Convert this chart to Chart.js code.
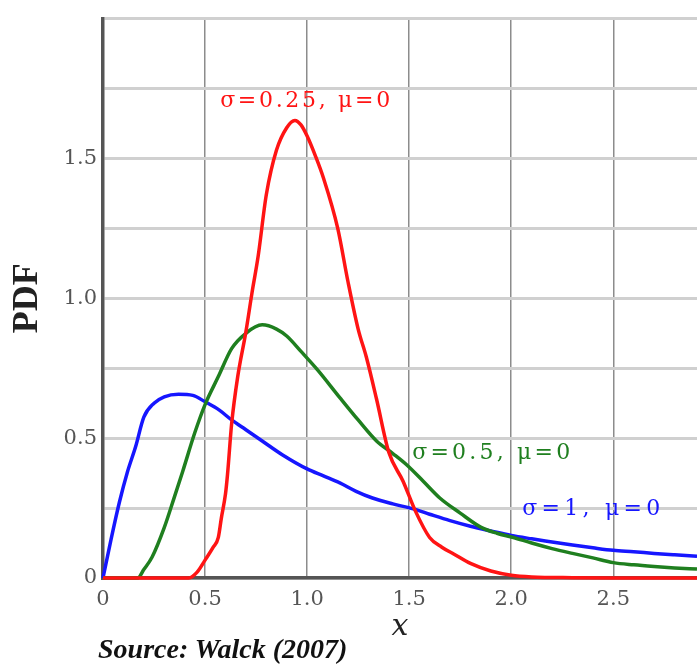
<!DOCTYPE html>
<html><head><meta charset="utf-8">
<script src="https://cdn.jsdelivr.net/npm/chart.js@4.4.1/dist/chart.umd.min.js"></script>
<style>
html,body{margin:0;padding:0;background:#fff;}
#wrap{position:relative;width:697px;height:669px;overflow:hidden;}
#src{position:absolute;left:98px;top:634px;font:italic bold 28px "Liberation Serif",serif;color:#111;white-space:nowrap;line-height:30px;}
</style></head><body>
<div id="wrap"><canvas id="c" width="697" height="669"></canvas><div id="src">Source: Walck (2007)</div></div>
<script>
// ---- data ----
const xRed  = [0, 0.42, 0.46, 0.5, 0.54, 0.565, 0.58, 0.6, 0.61, 0.63, 0.66, 0.7, 0.73, 0.76, 0.8, 0.85, 0.9, 0.94, 0.97, 1.0, 1.04, 1.08, 1.15, 1.2, 1.25, 1.29, 1.34, 1.4, 1.47, 1.53, 1.6, 1.66, 1.72, 1.8, 1.9, 2.0, 2.1, 2.3, 2.5, 2.91];
const yRed  = [0, 0, 0.02, 0.064, 0.11, 0.145, 0.215, 0.3, 0.37, 0.55, 0.72, 0.88, 1.02, 1.15, 1.37, 1.53, 1.61, 1.636, 1.62, 1.58, 1.51, 1.43, 1.25, 1.06, 0.89, 0.79, 0.64, 0.45, 0.346, 0.24, 0.145, 0.11, 0.085, 0.052, 0.025, 0.01, 0.004, 0.001, 0, 0];

const xGreen = [0, 0.17, 0.2, 0.24, 0.3, 0.35, 0.39, 0.45, 0.5, 0.565, 0.63, 0.7, 0.78, 0.85, 0.9, 0.97, 1.05, 1.16, 1.25, 1.34, 1.42, 1.49, 1.57, 1.65, 1.75, 1.85, 1.93, 2.01, 2.1, 2.2, 2.3, 2.4, 2.5, 2.6, 2.7, 2.8, 2.91];
const yGreen = [0, 0, 0.03, 0.074, 0.18, 0.29, 0.38, 0.52, 0.62, 0.72, 0.82, 0.875, 0.905, 0.89, 0.865, 0.81, 0.745, 0.645, 0.565, 0.49, 0.445, 0.403, 0.345, 0.286, 0.232, 0.182, 0.16, 0.145, 0.125, 0.105, 0.088, 0.072, 0.055, 0.047, 0.041, 0.036, 0.032];

const xBlue = [0, 0.04, 0.08, 0.12, 0.16, 0.2, 0.25, 0.3, 0.37, 0.44, 0.5, 0.57, 0.63, 0.7, 0.78, 0.88, 1.0, 1.08, 1.16, 1.24, 1.32, 1.42, 1.52, 1.6, 1.7, 1.8, 1.9, 2.0, 2.1, 2.2, 2.3, 2.4, 2.5, 2.6, 2.7, 2.8, 2.91];
const yBlue = [0, 0.14, 0.27, 0.38, 0.47, 0.575, 0.625, 0.648, 0.657, 0.653, 0.63, 0.6, 0.565, 0.53, 0.49, 0.44, 0.39, 0.365, 0.34, 0.31, 0.286, 0.265, 0.247, 0.228, 0.205, 0.185, 0.168, 0.152, 0.14, 0.129, 0.118, 0.108, 0.099, 0.094, 0.088, 0.083, 0.078];

const seriesNames = ['σ=0.25, μ=0', 'σ=0.5, μ=0', 'σ=1, μ=0'];
const xTickValues = [0, 0.5, 1, 1.5, 2, 2.5];
const xTickLabels = ['0', '0.5', '1.0', '1.5', '2.0', '2.5'];
const yGridValues = [0, 0.25, 0.5, 0.75, 1, 1.25, 1.5, 1.75, 2];
const yTickLabels = ['0', '', '0.5', '', '1.0', '', '1.5', '', ''];
const xMax = 2.91, yMax = 2;

// ---- styles ----
const RED = '#ff1414', GREEN = '#1f7f1f', BLUE = '#1616ff';
const pts = (xs, ys) => xs.map((x, i) => ({x, y: ys[i]}));

const labelDefs = [
  {text: seriesNames[0], x: 0.574, y: 1.705, color: RED,   width: 170},
  {text: seriesNames[1], x: 1.515, y: 0.445, color: GREEN, width: 158},
  {text: seriesNames[2], x: 2.054, y: 0.245, color: BLUE,  width: 138}
];

const labelPlugin = {
  id: 'curveLabels',
  afterDatasetsDraw(chart) {
    const {ctx, scales} = chart;
    ctx.save();
    ctx.font = '22px "DejaVu Serif", serif';
    ctx.textBaseline = 'middle';
    ctx.textAlign = 'left';
    labelDefs.forEach(l => {
      ctx.letterSpacing = '0px';
      const w = ctx.measureText(l.text).width;
      const n = [...l.text].length;
      ctx.letterSpacing = Math.max(0, (l.width - w) / (n - 1)) + 'px';
      ctx.fillStyle = l.color;
      ctx.fillText(l.text, scales.x.getPixelForValue(l.x), scales.y.getPixelForValue(l.y));
    });
    ctx.restore();
  }
};

const tickFont = {family: '"DejaVu Serif", serif', size: 21};

new Chart(document.getElementById('c'), {
  type: 'line',
  data: {
    datasets: [
      {label: seriesNames[0], data: pts(xRed, yRed), borderColor: RED, borderWidth: 3.5},
      {label: seriesNames[1], data: pts(xGreen, yGreen), borderColor: GREEN, borderWidth: 3.5},
      {label: seriesNames[2], data: pts(xBlue, yBlue), borderColor: BLUE, borderWidth: 3.5}
    ].map(d => Object.assign(d, {pointRadius: 0, fill: false, cubicInterpolationMode: 'monotone', clip: 8}))
  },
  options: {
    responsive: false,
    animation: false,
    layout: {padding: {top: 13, left: 0, right: 0, bottom: 0}},
    plugins: {legend: {display: false}, tooltip: {enabled: false}},
    scales: {
      x: {
        type: 'linear', min: 0, max: xMax,
        afterBuildTicks: s => { s.ticks = xTickValues.map(v => ({value: v})); },
        afterFit: s => { s.height = 91; },
        ticks: {
          font: tickFont, color: '#555', padding: 9, maxRotation: 0, autoSkip: false,
          callback: (v, i) => xTickLabels[i]
        },
        grid: {color: '#8c8c8c', lineWidth: 1.5, drawTicks: false},
        border: {color: '#555', width: 3.5},
        title: {display: true, text: 'x', color: '#222',
          font: {family: '"DejaVu Serif", serif', size: 30, style: 'italic'},
          padding: {top: 0, bottom: 24}}
      },
      y: {
        type: 'linear', min: 0, max: yMax,
        afterBuildTicks: s => { s.ticks = yGridValues.map(v => ({value: v})); },
        afterFit: s => { s.width = 103; },
        ticks: {
          font: tickFont, color: '#555', padding: 6, autoSkip: false,
          callback: (v, i) => yTickLabels[i]
        },
        grid: {color: '#d0d0d0', lineWidth: 3, drawTicks: false},
        border: {color: '#555', width: 3.5},
        title: {display: true, text: 'PDF', color: '#222',
          font: {family: '"Liberation Serif", serif', size: 36, weight: 'bold'},
          padding: {top: 6, bottom: 0}}
      }
    }
  },
  plugins: [labelPlugin]
});
</script>
</body></html>
